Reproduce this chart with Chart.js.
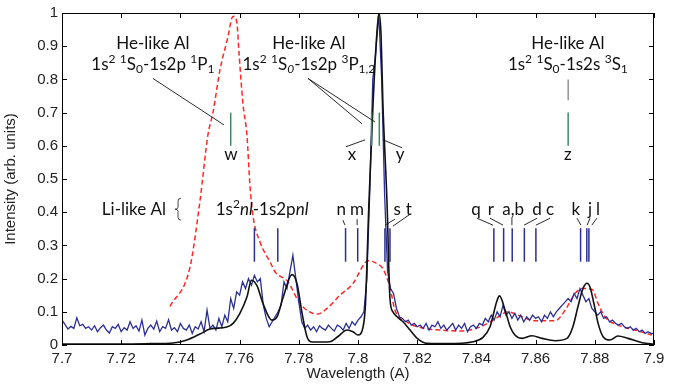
<!DOCTYPE html>
<html>
<head>
<meta charset="utf-8">
<script src="https://cdn.jsdelivr.net/npm/chart.js@4.4.0/dist/chart.umd.min.js"></script>
<style>
  html, body { margin: 0; padding: 0; background: #fff; }
</style>
</head>
<body>
<canvas id="spectrum" width="674" height="390"></canvas>
<script>
// ---- values ----
const xTicks = [7.7, 7.72, 7.74, 7.76, 7.78, 7.8, 7.82, 7.84, 7.86, 7.88, 7.9];
const yTicks = [0, 0.1, 0.2, 0.3, 0.4, 0.5, 0.6, 0.7, 0.8, 0.9, 1];

// measured spectrum, sampled every 0.001 A from 7.700 A
const measStart = 7.700;
const measStep = 0.001;
const measured = [
  0.075, 0.062, 0.048, 0.056, 0.05, 0.082, 0.058, 0.062, 0.05, 0.055,
  0.045, 0.058, 0.04, 0.052, 0.06, 0.045, 0.036, 0.055, 0.05, 0.062,
  0.04, 0.052, 0.045, 0.07, 0.05, 0.058, 0.042, 0.075, 0.03, 0.05,
  0.06, 0.048, 0.072, 0.04, 0.055, 0.05, 0.076, 0.045, 0.052, 0.04,
  0.065, 0.05, 0.045, 0.06, 0.035, 0.055, 0.048, 0.07, 0.04, 0.105,
  0.05, 0.06, 0.045, 0.08, 0.055, 0.09, 0.07, 0.14, 0.11, 0.16,
  0.15, 0.19, 0.17, 0.2, 0.18, 0.21, 0.19, 0.2, 0.12, 0.08,
  0.055, 0.07, 0.085, 0.1, 0.12, 0.19, 0.17, 0.22, 0.27, 0.2,
  0.13, 0.07, 0.05, 0.06, 0.045, 0.055, 0.04, 0.058, 0.05, 0.045,
  0.06, 0.05, 0.042, 0.06, 0.055, 0.045, 0.065, 0.05, 0.07, 0.06,
  0.075, 0.085, 0.1, 0.2, 0.47, 0.8, 0.88, 1.0, 0.8, 0.45,
  0.22, 0.17, 0.155, 0.11, 0.085, 0.08, 0.07, 0.075, 0.06, 0.065,
  0.055, 0.06, 0.05, 0.065, 0.045, 0.06, 0.055, 0.07, 0.05, 0.06,
  0.045, 0.055, 0.065, 0.045, 0.06, 0.05, 0.065, 0.04, 0.055, 0.06,
  0.05, 0.065, 0.06, 0.08, 0.07, 0.09, 0.075, 0.1, 0.085, 0.12,
  0.09, 0.1, 0.08, 0.095, 0.075, 0.09, 0.07, 0.085, 0.075, 0.09,
  0.08, 0.085, 0.07, 0.09, 0.08, 0.1, 0.085, 0.1, 0.11, 0.12,
  0.13, 0.14, 0.13, 0.155, 0.14, 0.17, 0.15, 0.13, 0.14, 0.11,
  0.1, 0.09, 0.1, 0.08, 0.085, 0.07, 0.075, 0.065, 0.06, 0.065,
  0.055, 0.05, 0.055, 0.045, 0.05, 0.04, 0.045, 0.035, 0.04, 0.035,
  0.035
];

// simulated spectrum (black)
const simulated = [
  [7.700, 0.003], [7.720, 0.003], [7.730, 0.004], [7.7375, 0.006], [7.7422, 0.015],
  [7.7466, 0.033], [7.750, 0.048], [7.7557, 0.054], [7.7578, 0.065], [7.7601, 0.095],
  [7.7625, 0.145], [7.7640, 0.195], [7.7659, 0.178], [7.7679, 0.125], [7.7709, 0.075],
  [7.7726, 0.084], [7.7747, 0.143], [7.7777, 0.212], [7.7794, 0.185], [7.7811, 0.096],
  [7.7828, 0.024], [7.7845, 0.009], [7.7905, 0.010], [7.793, 0.024], [7.7963, 0.045],
  [7.7983, 0.040], [7.800, 0.030], [7.8017, 0.054], [7.8025, 0.12], [7.8037, 0.43],
  [7.8051, 0.73], [7.8063, 0.93], [7.8071, 1.0], [7.8078, 0.93], [7.8084, 0.73],
  [7.8098, 0.43], [7.8108, 0.14], [7.8118, 0.10], [7.8132, 0.085], [7.8152, 0.07],
  [7.8176, 0.045], [7.820, 0.02], [7.8233, 0.005], [7.830, 0.004], [7.8389, 0.01],
  [7.8422, 0.023], [7.8446, 0.055], [7.847, 0.135], [7.8478, 0.148], [7.8497, 0.105],
  [7.8514, 0.055], [7.853, 0.03], [7.8554, 0.02], [7.8588, 0.028], [7.8622, 0.02],
  [7.8666, 0.013], [7.8706, 0.02], [7.8726, 0.055], [7.8743, 0.115], [7.876, 0.17],
  [7.8774, 0.186], [7.8784, 0.174], [7.8797, 0.125], [7.8811, 0.066], [7.8828, 0.025],
  [7.8851, 0.015], [7.8878, 0.027], [7.8912, 0.02], [7.896, 0.007], [7.900, 0.002]
];

// red dashed spectrum
const dashed = [
  [7.7365, 0.116], [7.7432, 0.233], [7.7466, 0.433], [7.7493, 0.633], [7.751, 0.70],
  [7.7534, 0.83], [7.7561, 0.93], [7.7574, 0.985], [7.7581, 0.99], [7.7591, 0.97],
  [7.7598, 0.88], [7.7611, 0.73], [7.7625, 0.63], [7.7635, 0.48], [7.7645, 0.39],
  [7.7669, 0.31], [7.7703, 0.25], [7.772, 0.22], [7.7764, 0.19], [7.7797, 0.135],
  [7.782, 0.11], [7.7862, 0.093], [7.7899, 0.113], [7.7939, 0.15], [7.7983, 0.185],
  [7.8024, 0.248], [7.8034, 0.254], [7.8064, 0.245], [7.8084, 0.23], [7.8108, 0.173],
  [7.8125, 0.105], [7.8166, 0.069], [7.822, 0.051], [7.8277, 0.045], [7.8345, 0.042],
  [7.8412, 0.054], [7.8466, 0.08], [7.8507, 0.10], [7.854, 0.09], [7.8598, 0.073],
  [7.8666, 0.073], [7.870, 0.105], [7.8733, 0.155], [7.8757, 0.17], [7.8791, 0.167],
  [7.8811, 0.125], [7.8834, 0.085], [7.8878, 0.06], [7.8936, 0.045], [7.8993, 0.03]
];

// He-like line positions (green) and Li-like satellites (blue)
const heLines = [7.757, 7.8046, 7.8072, 7.871];
const heSpan = [0.6, 0.7];
const liLines = [7.765, 7.7729, 7.7958, 7.7999, 7.8091, 7.8108, 7.8459, 7.8492,
                 7.8521, 7.8562, 7.8601, 7.8752, 7.8773, 7.878];
const liSpan = [0.251, 0.352];

// thin leader lines [x1, y1, x2, y2]
const leaders = [
  [7.7307, 0.803, 7.7547, 0.663],
  [7.7831, 0.803, 7.8014, 0.666], [7.7831, 0.803, 7.8057, 0.672],
  [7.7959, 0.597, 7.8024, 0.618], [7.8084, 0.618, 7.8149, 0.594],
  [7.7949, 0.376, 7.7956, 0.361], [7.7997, 0.379, 7.7997, 0.361],
  [7.8125, 0.379, 7.8091, 0.361], [7.8176, 0.394, 7.8118, 0.358],
  [7.8402, 0.382, 7.8456, 0.361], [7.8446, 0.382, 7.849, 0.361],
  [7.852, 0.385, 7.852, 0.361], [7.8605, 0.382, 7.8561, 0.361],
  [7.8649, 0.382, 7.8601, 0.361], [7.874, 0.382, 7.8753, 0.361],
  [7.8784, 0.382, 7.8774, 0.361], [7.8807, 0.382, 7.879, 0.361]
];
const zLeader = [7.871, 0.8, 7.871, 0.737];

// text notes [x, y, parts]; part = [text, style]
const notes = [
  [7.7307, 0.907, [['He-like Al']]],
  [7.7307, 0.845, [['1s'], ['2', 'sup'], [' '], ['1', 'sup'], ['S'], ['0', 'sub'], ['-1s2p '], ['1', 'sup'], ['P'], ['1', 'sub']]],
  [7.7834, 0.907, [['He-like Al']]],
  [7.7834, 0.845, [['1s'], ['2', 'sup'], [' '], ['1', 'sup'], ['S'], ['0', 'isub'], ['-1s2p '], ['3', 'sup'], ['P'], ['1,2', 'sub']]],
  [7.8709, 0.907, [['He-like Al']]],
  [7.8709, 0.845, [['1s'], ['2', 'sup'], [' '], ['1', 'sup'], ['S'], ['0', 'sub'], ['-1s2s '], ['3', 'sup'], ['S'], ['1', 'sub']]],
  [7.7571, 0.573, [['w']]], [7.798, 0.573, [['x']]],
  [7.8142, 0.573, [['y']]], [7.8709, 0.573, [['z']]],
  [7.7243, 0.409, [['Li-like Al']]],
  [7.7676, 0.409, [['1s'], ['2', 'sup'], ['nl', 'i'], ['-1s2p'], ['nl', 'i']]],
  [7.7943, 0.409, [['n']]], [7.7997, 0.409, [['m']]],
  [7.8132, 0.409, [['s']]], [7.8172, 0.409, [['t']]],
  [7.8399, 0.409, [['q']]], [7.8449, 0.409, [['r']]],
  [7.8524, 0.409, [['a,b']]], [7.8605, 0.409, [['d']]], [7.8649, 0.409, [['c']]],
  [7.8736, 0.409, [['k']]], [7.8784, 0.409, [['j']]], [7.8811, 0.409, [['l']]]
];
const bracePos = [7.7392, 0.409];

const FONT = "'Liberation Sans', Arial, Helvetica";
const NOTE_FONT = "Lato, 'Noto Sans'";

function drawRich(ctx, parts, cx, cy) {
  const fontOf = s => (s.includes('i') ? 'italic ' : '') +
    (s.includes('sup') || s.includes('sub') ? 12 : 17) + 'px ' + NOTE_FONT;
  let w = 0;
  parts.forEach(p => { ctx.font = fontOf(p[1] || ''); w += ctx.measureText(p[0]).width; });
  let px = cx - w / 2;
  ctx.textAlign = 'left';
  ctx.textBaseline = 'middle';
  parts.forEach(p => {
    const s = p[1] || '';
    ctx.font = fontOf(s);
    const dy = s.includes('sup') ? -5 : (s.includes('sub') ? 5 : 0);
    ctx.fillText(p[0], px, cy + dy);
    px += ctx.measureText(p[0]).width;
  });
}

const overlay = {
  id: 'overlay',
  afterDatasetsDraw(chart) {
    const { ctx, chartArea: a, scales: { x, y } } = chart;
    ctx.save();

    // line markers
    ctx.lineWidth = 1.5;
    ctx.strokeStyle = '#3e8a5c';
    heLines.forEach(v => {
      const px = x.getPixelForValue(v);
      ctx.beginPath();
      ctx.moveTo(px, y.getPixelForValue(heSpan[0]));
      ctx.lineTo(px, y.getPixelForValue(heSpan[1]));
      ctx.stroke();
    });
    ctx.strokeStyle = '#2b2f94';
    liLines.forEach(v => {
      const px = x.getPixelForValue(v);
      ctx.beginPath();
      ctx.moveTo(px, y.getPixelForValue(liSpan[0]));
      ctx.lineTo(px, y.getPixelForValue(liSpan[1]));
      ctx.stroke();
    });

    // leaders
    ctx.lineWidth = 0.9;
    ctx.strokeStyle = '#111';
    leaders.forEach(l => {
      ctx.beginPath();
      ctx.moveTo(x.getPixelForValue(l[0]), y.getPixelForValue(l[1]));
      ctx.lineTo(x.getPixelForValue(l[2]), y.getPixelForValue(l[3]));
      ctx.stroke();
    });
    ctx.strokeStyle = '#777';
    ctx.lineWidth = 1.2;
    ctx.beginPath();
    ctx.moveTo(x.getPixelForValue(zLeader[0]), y.getPixelForValue(zLeader[1]));
    ctx.lineTo(x.getPixelForValue(zLeader[2]), y.getPixelForValue(zLeader[3]));
    ctx.stroke();

    // brace
    const bx = x.getPixelForValue(bracePos[0]);
    const by = y.getPixelForValue(bracePos[1]);
    ctx.strokeStyle = '#333';
    ctx.lineWidth = 0.9;
    ctx.beginPath();
    ctx.moveTo(bx + 3, by - 11);
    ctx.quadraticCurveTo(bx, by - 11, bx, by - 8);
    ctx.lineTo(bx, by - 2);
    ctx.quadraticCurveTo(bx, by, bx - 3, by);
    ctx.quadraticCurveTo(bx, by, bx, by + 2);
    ctx.lineTo(bx, by + 8);
    ctx.quadraticCurveTo(bx, by + 11, bx + 3, by + 11);
    ctx.stroke();

    // texts
    ctx.fillStyle = '#111';
    notes.forEach(n => drawRich(ctx, n[2], x.getPixelForValue(n[0]), y.getPixelForValue(n[1])));

    // frame with inward ticks
    ctx.strokeStyle = '#000';
    ctx.lineWidth = 1;
    ctx.strokeRect(a.left + 0.5, a.top + 0.5, a.width - 1, a.height - 1);
    ctx.beginPath();
    xTicks.forEach(v => {
      const px = Math.round(x.getPixelForValue(v)) + 0.5;
      ctx.moveTo(px, a.bottom); ctx.lineTo(px, a.bottom - 5);
      ctx.moveTo(px, a.top); ctx.lineTo(px, a.top + 5);
    });
    yTicks.forEach(v => {
      const py = Math.round(y.getPixelForValue(v)) + 0.5;
      ctx.moveTo(a.left, py); ctx.lineTo(a.left + 5, py);
      ctx.moveTo(a.right, py); ctx.lineTo(a.right - 5, py);
    });
    ctx.stroke();
    ctx.restore();
  }
};

const fmt = v => String(+(+v).toFixed(2));

new Chart(document.getElementById('spectrum'), {
  type: 'line',
  data: {
    datasets: [
      {
        label: 'simulation',
        data: simulated.map(p => ({ x: p[0], y: p[1] })),
        borderColor: '#111',
        borderWidth: 1.6,
        pointRadius: 0,
        cubicInterpolationMode: 'monotone',
        order: 1
      },
      {
        label: 'measured',
        data: measured.map((v, i) => ({ x: measStart + i * measStep, y: v })),
        borderColor: '#2b2f94',
        borderWidth: 1.3,
        pointRadius: 0,
        tension: 0,
        order: 2
      },
      {
        label: 'dashed',
        data: dashed.map(p => ({ x: p[0], y: p[1] })),
        borderColor: '#ff2626',
        borderWidth: 1.5,
        borderDash: [5, 3],
        pointRadius: 0,
        cubicInterpolationMode: 'monotone',
        order: 3
      }
    ]
  },
  options: {
    responsive: false,
    animation: false,
    devicePixelRatio: 1,
    layout: { padding: { top: 10, right: 20, left: 0, bottom: 0 } },
    plugins: { legend: { display: false }, tooltip: { enabled: false } },
    scales: {
      x: {
        type: 'linear',
        min: 7.7,
        max: 7.9,
        afterBuildTicks: s => { s.ticks = xTicks.map(v => ({ value: v })); },
        afterFit: s => { s.height = 45; },
        grid: { display: false, drawTicks: false },
        border: { display: false },
        ticks: {
          callback: fmt, autoSkip: false, maxRotation: 0, padding: 5,
          color: '#222', font: { family: FONT, size: 15 }
        },
        title: {
          display: true, text: 'Wavelength (A)', color: '#222',
          font: { family: FONT, size: 15 }, padding: { top: 0, bottom: 7 }
        }
      },
      y: {
        type: 'linear',
        min: 0,
        max: 1,
        afterBuildTicks: s => { s.ticks = yTicks.map(v => ({ value: v })); },
        afterFit: s => { s.width = 62; },
        grid: { display: false, drawTicks: false },
        border: { display: false },
        ticks: {
          callback: fmt, autoSkip: false, padding: 4,
          color: '#222', font: { family: FONT, size: 15 }
        },
        title: {
          display: true, text: 'Intensity (arb. units)', color: '#222',
          font: { family: FONT, size: 15 }, padding: { top: 2, bottom: 0 }
        }
      }
    }
  },
  plugins: [overlay]
});
</script>
</body>
</html>
